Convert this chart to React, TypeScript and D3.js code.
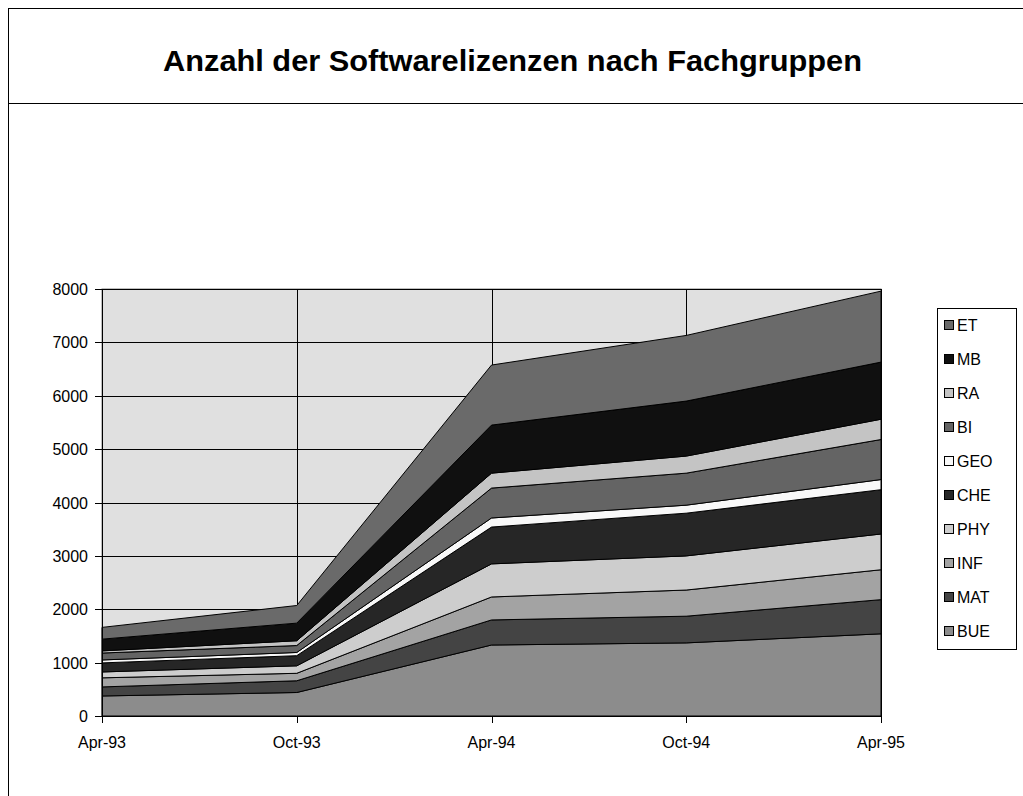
import React from "react";
import * as d3 from "d3";

// Zeitpunkte
const categories = ["Apr-93", "Oct-93", "Apr-94", "Oct-94", "Apr-95"];

// Fachgruppen, von unten nach oben gestapelt
const groups = ["BUE", "MAT", "INF", "PHY", "CHE", "GEO", "BI", "RA", "MB", "ET"];

const BUE = [375, 440, 1330, 1370, 1540];
const MAT = [170, 220, 470, 500, 640];
const INF = [170, 140, 430, 490, 560];
const PHY = [110, 140, 620, 640, 670];
const CHE = [170, 190, 690, 800, 830];
const GEO = [55, 60, 170, 150, 190];
const BI = [130, 130, 560, 600, 750];
const RA = [40, 90, 280, 320, 380];
const MB = [220, 330, 900, 1030, 1070];
const ET = [220, 330, 1125, 1230, 1330];

const yTicks = [0, 1000, 2000, 3000, 4000, 5000, 6000, 7000, 8000];

const colors: Record<string, string> = {
  BUE: "#8c8c8c",
  MAT: "#444444",
  INF: "#a3a3a3",
  PHY: "#cdcdcd",
  CHE: "#262626",
  GEO: "#f8f8f8",
  BI: "#646464",
  RA: "#c4c4c4",
  MB: "#101010",
  ET: "#6a6a6a",
};

const font = "Arial, 'Liberation Sans', sans-serif";

export default function App() {
  const W = 1023;
  const H = 796;
  const left = 102;
  const right = 881;
  const top = 289;
  const bottom = 716;

  const values: Record<string, number[]> = { BUE, MAT, INF, PHY, CHE, GEO, BI, RA, MB, ET };
  const rows = categories.map((c, i) => {
    const r: any = { cat: c };
    groups.forEach((g) => (r[g] = values[g][i]));
    return r;
  });
  const series = d3.stack<any>().keys(groups)(rows);

  const x = d3.scalePoint<string>().domain(categories).range([left, right]);
  const y = d3.scaleLinear().domain([0, 8000]).range([bottom, top]);

  const area = d3
    .area<any>()
    .x((d) => x(d.data.cat)!)
    .y0((d) => y(d[0]))
    .y1((d) => y(d[1]));

  const legend = groups.slice().reverse();

  return (
    <svg width={W} height={H} style={{ position: "absolute", left: 0, top: 0, background: "#fff" }}>
      {/* Rahmen */}
      <rect x={8.5} y={8.5} width={W + 10} height={H + 10} fill="#fff" stroke="#000" />
      <line x1={8} x2={W} y1={103.5} y2={103.5} stroke="#000" />
      <text
        x={163}
        y={71}
        textLength={699}
        lengthAdjust="spacingAndGlyphs"
        fontFamily={font}
        fontWeight="bold"
        fontSize={30}
        fill="#000"
      >
        Anzahl der Softwarelizenzen nach Fachgruppen
      </text>

      {/* Plotfläche */}
      <rect x={left} y={top} width={right - left} height={bottom - top} fill="#e0e0e0" stroke="#808080" />
      {yTicks.map((t) => (
        <line key={t} x1={left} x2={right} y1={Math.round(y(t)) + 0.5} y2={Math.round(y(t)) + 0.5} stroke="#000" />
      ))}
      {categories.slice(1).map((c) => (
        <line key={c} x1={Math.round(x(c)!) + 0.5} x2={Math.round(x(c)!) + 0.5} y1={top} y2={bottom} stroke="#000" />
      ))}

      {series.map((s) => (
        <path key={s.key} d={area(s as any)!} fill={colors[s.key]} stroke="#000" strokeWidth={1} />
      ))}

      {/* Achsen */}
      <line x1={left + 0.5} x2={left + 0.5} y1={top} y2={bottom + 0.5} stroke="#000" />
      <line x1={left} x2={right} y1={bottom + 0.5} y2={bottom + 0.5} stroke="#000" />
      {yTicks.map((t) => (
        <g key={t}>
          <line x1={left - 7} x2={left} y1={Math.round(y(t)) + 0.5} y2={Math.round(y(t)) + 0.5} stroke="#000" />
          <text x={left - 14} y={y(t) + 6} textAnchor="end" fontFamily={font} fontSize={16} fill="#000">
            {t}
          </text>
        </g>
      ))}
      {categories.map((c) => (
        <g key={c}>
          <line x1={Math.round(x(c)!) + 0.5} x2={Math.round(x(c)!) + 0.5} y1={bottom} y2={bottom + 7} stroke="#000" />
          <text x={x(c)!} y={bottom + 32} textAnchor="middle" fontFamily={font} fontSize={16} fill="#000">
            {c}
          </text>
        </g>
      ))}

      {/* Legende */}
      <rect x={937.5} y={308.5} width={79} height={341} fill="#fff" stroke="#000" />
      {legend.map((g, i) => (
        <g key={g}>
          <rect x={944.5} y={320.5 + i * 34} width={9} height={9} fill={colors[g]} stroke="#000" />
          <text x={957} y={331 + i * 34} fontFamily={font} fontSize={16} fill="#000">
            {g}
          </text>
        </g>
      ))}
    </svg>
  );
}
